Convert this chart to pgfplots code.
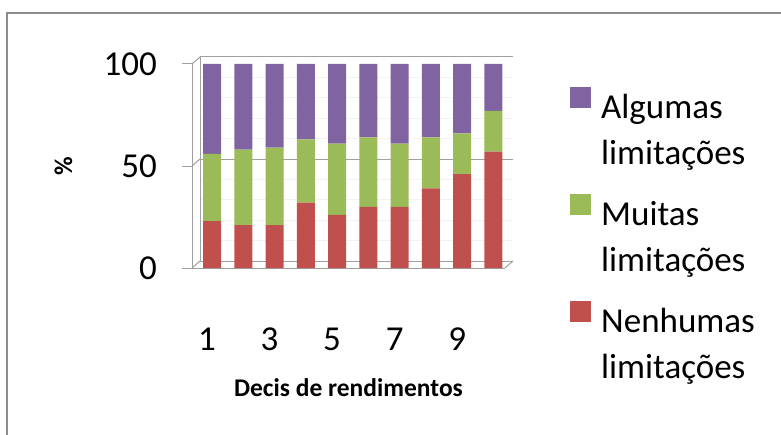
\documentclass[border=0pt]{standalone}
\usepackage{fontspec}
\setmainfont{Carlito}
\usepackage{pgfplots}
\pgfplotsset{compat=1.18}

\definecolor{algumas}{HTML}{8064A2}
\definecolor{muitas}{HTML}{9BBB59}
\definecolor{nenhumas}{HTML}{C0504D}
\definecolor{framegray}{HTML}{8C8C8C}
\definecolor{wallgray}{HTML}{A0A0A0}

\begin{document}
\begin{tikzpicture}[x=1pt,y=1pt]
\useasboundingbox (0,0) rectangle (781,434);
\clip (0,0) rectangle (781,434);
% chart frame
\draw[framegray, line width=1.4pt] (7,-10) -- (7,421) -- (800,421);
\begin{axis}[
  at={(192pt,166pt)}, anchor=south west,
  scale only axis, width=313pt, height=204pt,
  xmin=0.36, xmax=10.37, ymin=0, ymax=100,
  clip=false,
  ybar stacked, bar width=18pt,
  axis x line*=bottom, axis y line*=left,
  axis line style={wallgray, line width=1pt},
  xtick={1,3,5,7,9}, xtick style={draw=none},
  ytick={0,50,100}, ytick style={wallgray, line width=1pt},
  tick align=outside, major tick length=10pt,
  minor ytick={10,20,30,40,60,70,80,90}, minor tick length=0pt,
  ymajorgrids, yminorgrids,
  major grid style={wallgray, line width=1pt, xshift=8pt, yshift=7pt},
  minor grid style={gray!10, line width=0.8pt, xshift=8pt, yshift=7pt},
  /pgf/number format/assume math mode=true,
  tick label style={font=\fontsize{35}{42}\selectfont},
  yticklabel style={anchor=east, inner sep=0pt, xshift=-25pt},
  xticklabel style={anchor=center, inner sep=0pt, yshift=-61pt, xshift=-5pt},
  xlabel={Decis de rendimentos},
  xlabel style={at={(rel axis cs:0.5,0)}, anchor=base, yshift=-128pt, inner sep=0pt,
    font=\fontsize{25.5}{30}\selectfont\bfseries},
  ylabel={\%},
  ylabel style={at={(rel axis cs:-0.4105,0.5)}, anchor=center, inner sep=0pt,
    font=\fontsize{25.5}{30}\selectfont\bfseries},
  reverse legend,
  legend cell align=left,
  legend style={at={(rel axis cs:1.2077,0.887)}, anchor=north west,
    draw=none, fill=none, inner sep=0pt, row sep=74pt, column sep=10pt,
    font=\fontsize{35}{46}\selectfont, nodes={inner sep=0pt}},
]
% back wall and floor edges
\draw[wallgray, line width=1pt] (rel axis cs:0,0) -- ++(8pt,7pt);
\draw[wallgray, line width=1pt] (rel axis cs:0,0.5) -- ++(8pt,7pt);
\draw[wallgray, line width=1pt] (rel axis cs:0,1) -- ++(8pt,7pt);
\draw[wallgray, line width=1pt] (rel axis cs:1,0) -- ++(8pt,7pt);
\draw[wallgray, line width=1pt] ([shift={(8pt,7pt)}]rel axis cs:0,0) -- ([shift={(8pt,7pt)}]rel axis cs:0,1);

\addplot[draw=none, fill=nenhumas,
  legend image code/.code={\fill[nenhumas] (0pt,-1pt) rectangle (21pt,20pt);}]
  coordinates {(1,23) (2,21) (3,21) (4,32) (5,26) (6,30) (7,30) (8,39) (9,46) (10,57)};
\addlegendentry{\parbox[t]{6cm}{Nenhumas\\limitações}}
\addplot[draw=none, fill=muitas,
  legend image code/.code={\fill[muitas] (0pt,-1pt) rectangle (21pt,20pt);}]
  coordinates {(1,33) (2,37) (3,38) (4,31) (5,35) (6,34) (7,31) (8,25) (9,20) (10,20)};
\addlegendentry{\parbox[t]{6cm}{Muitas\\limitações}}
\addplot[draw=none, fill=algumas,
  legend image code/.code={\fill[algumas] (0pt,-1pt) rectangle (21pt,20pt);}]
  coordinates {(1,44) (2,42) (3,41) (4,37) (5,39) (6,36) (7,39) (8,36) (9,34) (10,23)};
\addlegendentry{\parbox[t]{6cm}{Algumas\\limitações}}
\end{axis}
\end{tikzpicture}
\end{document}
